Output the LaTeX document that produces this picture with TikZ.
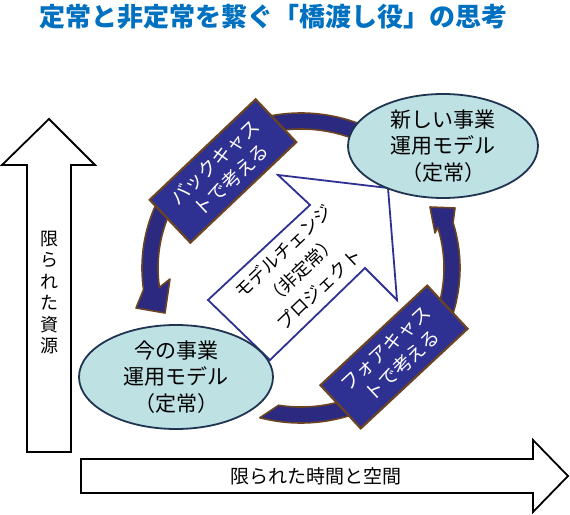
\documentclass[tikz,border=0pt]{standalone}
\usepackage{fontspec}
\setmainfont{Noto Sans CJK JP}
\usetikzlibrary{shapes.geometric}
\definecolor{titleblue}{HTML}{0070C0}
\definecolor{bandnavy}{HTML}{2B2A80}
\definecolor{boxnavy}{HTML}{2E3192}
\definecolor{bandbrown}{HTML}{6B4423}
\definecolor{modelfill}{HTML}{BEE1E4}
\definecolor{modeledge}{HTML}{1F3450}
\definecolor{arrowblue}{HTML}{2E3192}

\begin{document}
\begin{tikzpicture}[x=1pt,y=1pt,
    band/.style={fill=bandnavy,draw=bandbrown,line width=1.6pt,line join=round},
    bigarrow/.style={draw=black,fill=white,line width=1.8pt,line join=miter},
    model/.style={ellipse,draw=modeledge,fill=modelfill,line width=1.8pt,inner sep=0pt,
      align=center,font=\fontsize{21}{26.5}\selectfont},
    thinkbox/.style={rectangle,draw=bandbrown,fill=boxnavy,line width=2.2pt,text=white,
      minimum width=146pt,minimum height=59pt,inner sep=0pt,align=center,
      font=\fontsize{19}{24}\selectfont}]
  \useasboundingbox (0,0) rectangle (570,514);
  \node[font=\fontsize{26}{30}\selectfont\bfseries,text=titleblue] (title) at (273,497)
    {定常と非定常を繋ぐ「橋渡し役」の思考};
  % axes
  \draw[bigarrow] (27,62) -- (27,349) -- (2,349) -- (49,395) -- (95,349) -- (71,349) -- (71,62) -- cycle;
  \draw[bigarrow] (81,21) -- (81,55) -- (533,55) -- (533,74) -- (568,38) -- (533,2) -- (533,21) -- cycle;
  \node[font=\fontsize{18}{21.5}\selectfont,align=center] (resource) at (49,221.5) {限\\ら\\れ\\た\\資\\源};
  \node[font=\fontsize{19}{22}\selectfont] (timespace) at (316,38) {限られた時間と空間};
  % cycle
  \begin{scope}[shift={(301,246)}]
    \path[band] (118:159 and 155) arc[start angle=118,end angle=60,x radius=159,y radius=155]
      -- (60:143 and 139) arc[start angle=60,end angle=118,x radius=143,y radius=139] -- cycle;
    \path[band] (150:159 and 155) arc[start angle=150,end angle=188,x radius=159,y radius=155]
      -- (-165,-40) -- (-136,-45) -- (-131,-11)
      -- (188:143 and 139) arc[start angle=188,end angle=150,x radius=143,y radius=139] -- cycle;
    \path[band] (255:159 and 155) arc[start angle=255,end angle=300,x radius=159,y radius=155]
      -- (300:143 and 139) arc[start angle=300,end angle=261,x radius=143,y radius=139] -- cycle;
    \path[band] (-38:159 and 155) arc[start angle=-38,end angle=17,x radius=159,y radius=155]
      -- (154,60) -- (129,61) -- (134,35)
      -- (17:143 and 139) arc[start angle=17,end angle=-38,x radius=143,y radius=139] -- cycle;
  \end{scope}
  % project arrow
  \draw[draw=arrowblue,fill=white,line width=1.8pt,line join=miter]
    (208,214) -- (310,309) -- (278,339) -- (388,326) -- (397,214) -- (365,246) -- (270,154) -- cycle;
  \node[rotate=43.5,align=center,font=\fontsize{18}{26}\selectfont] (change) at (301,244)
    {モデルチェンジ\\（非定常）\\プロジェクト};
  \node[model,minimum width=190pt,minimum height=104pt] (new) at (443,368) {新しい事業\\運用モデル\\（定常）};
  \node[model,minimum width=194pt,minimum height=104pt] (now) at (176,137) {今の事業\\運用モデル\\（定常）};
  \node[thinkbox,rotate=43.5] (back) at (223,343) {バックキャス\\トで考える};
  \node[thinkbox,rotate=43] (fore) at (394,157) {フォアキャス\\トで考える};
\end{tikzpicture}
\end{document}
